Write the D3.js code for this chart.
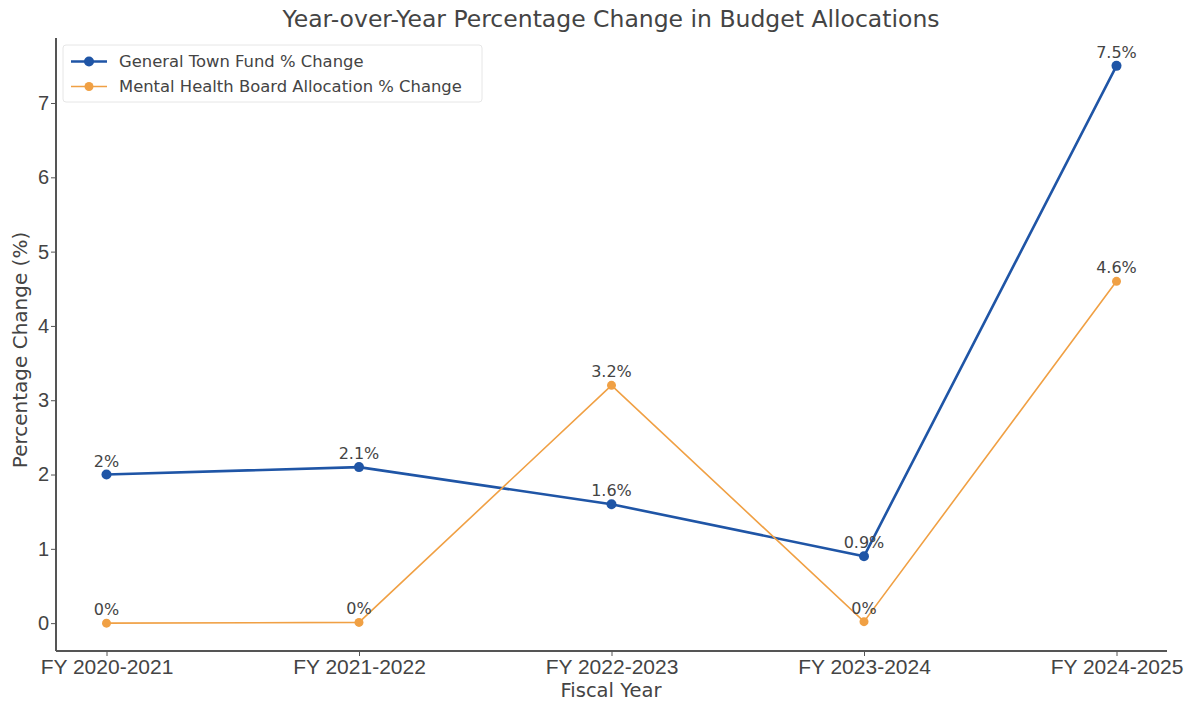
<!DOCTYPE html>
<html><head><meta charset="utf-8">
<script src="https://cdn.jsdelivr.net/npm/d3@7"></script>
<style>body{margin:0;background:#fff;} svg{display:block;font-family:"DejaVu Sans",sans-serif;}</style>
</head><body><svg id="c" width="1193" height="702"></svg>
<script>
const categories = ["FY 2020-2021","FY 2021-2022","FY 2022-2023","FY 2023-2024","FY 2024-2025"];
const generalFund = [2.0, 2.1, 1.6, 0.9, 7.5];
const generalLabels = ["2%","2.1%","1.6%","0.9%","7.5%"];
const mentalHealth = [0.0, 0.01, 3.2, 0.02, 4.6];
const mentalLabels = ["0%","0%","3.2%","0%","4.6%"];
const yTicks = [0,1,2,3,4,5,6,7];
const seriesNames = ["General Town Fund % Change","Mental Health Board Allocation % Change"];

const svg = d3.select("#c");
const L=56, R=1167, T=38, B=651;
const x = d3.scaleLinear().domain([-0.2, 4.2]).range([L, R]);
const y = d3.scaleLinear().domain([-0.375, 7.875]).range([B, T]);
const textCol = "#444";

svg.append("text").attr("x",611).attr("y",27).attr("text-anchor","middle")
  .attr("font-size",23.5).attr("fill",textCol).text("Year-over-Year Percentage Change in Budget Allocations");

const xa = svg.append("g").attr("transform",`translate(0,${B})`)
  .call(d3.axisBottom(x).tickValues(d3.range(categories.length)).tickFormat(i=>categories[i]).tickSize(5).tickSizeOuter(0).tickPadding(3));
const ya = svg.append("g").attr("transform",`translate(${L},0)`)
  .call(d3.axisLeft(y).tickValues(yTicks).tickFormat(d3.format("d")).tickSize(5).tickSizeOuter(0).tickPadding(2));
[xa,ya].forEach(a=>{
  a.selectAll("path").attr("stroke","#555").attr("stroke-width",2);
  a.selectAll("line").attr("stroke","#555");
  a.selectAll("text").attr("fill",textCol).attr("font-size",20);
});
xa.selectAll("text").attr("font-size",21);
xa.select("path").attr("d",`M${L},0H${R}`);
ya.select("path").attr("d",`M0,${B}V${T}`);

svg.append("text").attr("x",611).attr("y",696.5).attr("text-anchor","middle")
  .attr("font-size",19.5).attr("fill",textCol).text("Fiscal Year");
svg.append("text").attr("transform",`translate(27,350) rotate(-90)`).attr("text-anchor","middle")
  .attr("font-size",20).attr("fill",textCol).text("Percentage Change (%)");

const series = [
  {vals: generalFund, labels: generalLabels, color:"#1f55a6", w:2.6, r:5},
  {vals: mentalHealth, labels: mentalLabels, color:"#f0a044", w:1.6, r:4.5}
];
const line = d3.line().x((d,i)=>x(i)).y(d=>y(d));
series.forEach(s=>{
  svg.append("path").datum(s.vals).attr("d",line).attr("fill","none")
    .attr("stroke",s.color).attr("stroke-width",s.w);
  svg.append("g").selectAll("circle").data(s.vals).join("circle")
    .attr("cx",(d,i)=>x(i)).attr("cy",d=>y(d)).attr("r",s.r).attr("fill",s.color);
});
series.forEach(s=>{
  svg.append("g").selectAll("text").data(s.vals).join("text")
    .attr("x",(d,i)=>x(i)).attr("y",d=>y(d)-8).attr("text-anchor","middle")
    .attr("font-size",16).attr("fill",textCol).text((d,i)=>s.labels[i]);
});

// legend
const lg = svg.append("g");
lg.append("rect").attr("x",63).attr("y",45).attr("width",419).attr("height",57)
  .attr("fill","#fff").attr("fill-opacity",0.8).attr("stroke","#e6e6e6").attr("rx",3);
series.forEach((s,i)=>{
  const yy = 61.5 + i*25;
  lg.append("line").attr("x1",71).attr("x2",107).attr("y1",yy).attr("y2",yy)
    .attr("stroke",s.color).attr("stroke-width",s.w);
  lg.append("circle").attr("cx",89).attr("cy",yy).attr("r",s.r).attr("fill",s.color);
  lg.append("text").attr("x",119).attr("y",yy+5.5).attr("font-size",16.4).attr("fill",textCol).text(seriesNames[i]);
});
</script></body></html>
